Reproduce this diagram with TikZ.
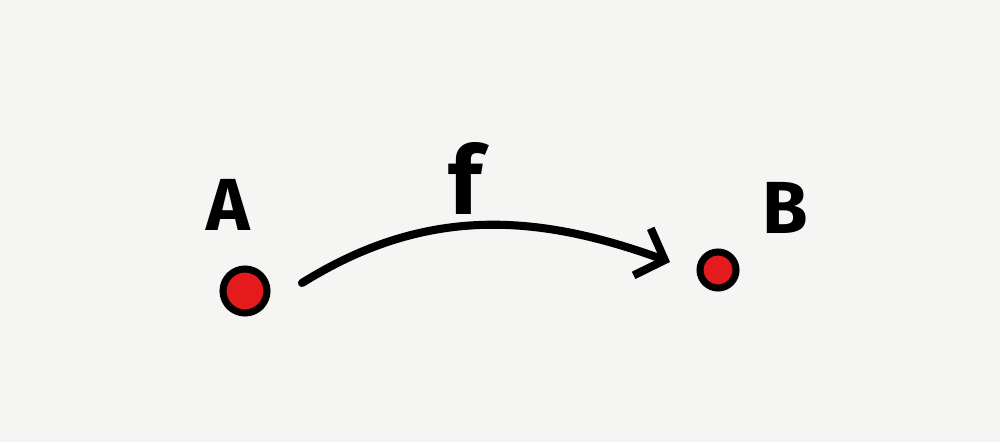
\documentclass[tikz,border=0pt]{standalone}
\usepackage{fontspec}
\setmainfont{Fira Sans}
\usepackage{tikz}
\usetikzlibrary{arrows.meta}

\definecolor{paper}{HTML}{F5F5F3}
\definecolor{dotred}{HTML}{E41A1C}

\tikzset{
  dot/.style={circle,draw=black,line width=2pt,fill=dotred,inner sep=0pt},
  lbl/.style={font=\fontsize{21}{24}\selectfont\bfseries},
  arr/.style={line width=2.3pt,line cap=round,-{Straight Barb[length=0.24cm,width=0.5cm,line width=2.3pt]}}
}

\begin{document}
\begin{tikzpicture}
      \fill[paper] (0,0) rectangle (10,4.42);
      \useasboundingbox (0,0) rectangle (10,4.42);
      \node[dot,minimum size=0.44cm] (a) at (2.45,1.51) {};
      \node[dot,minimum size=0.36cm] (b) at (7.18,1.72) {};
      \node[lbl] (la) at (2.28,2.37) {A};
      \node[lbl] (lb) at (7.85,2.34) {B};
      \node[lbl,font=\fontsize{27}{30}\selectfont\bfseries] (lf) at (4.65,2.64) {f};
      \coordinate (s) at (3.02,1.59);
      \coordinate (e) at (6.70,1.80);
      \draw[arr] (s) to[out=32,in=160] (e);
    \end{tikzpicture}
\end{document}
